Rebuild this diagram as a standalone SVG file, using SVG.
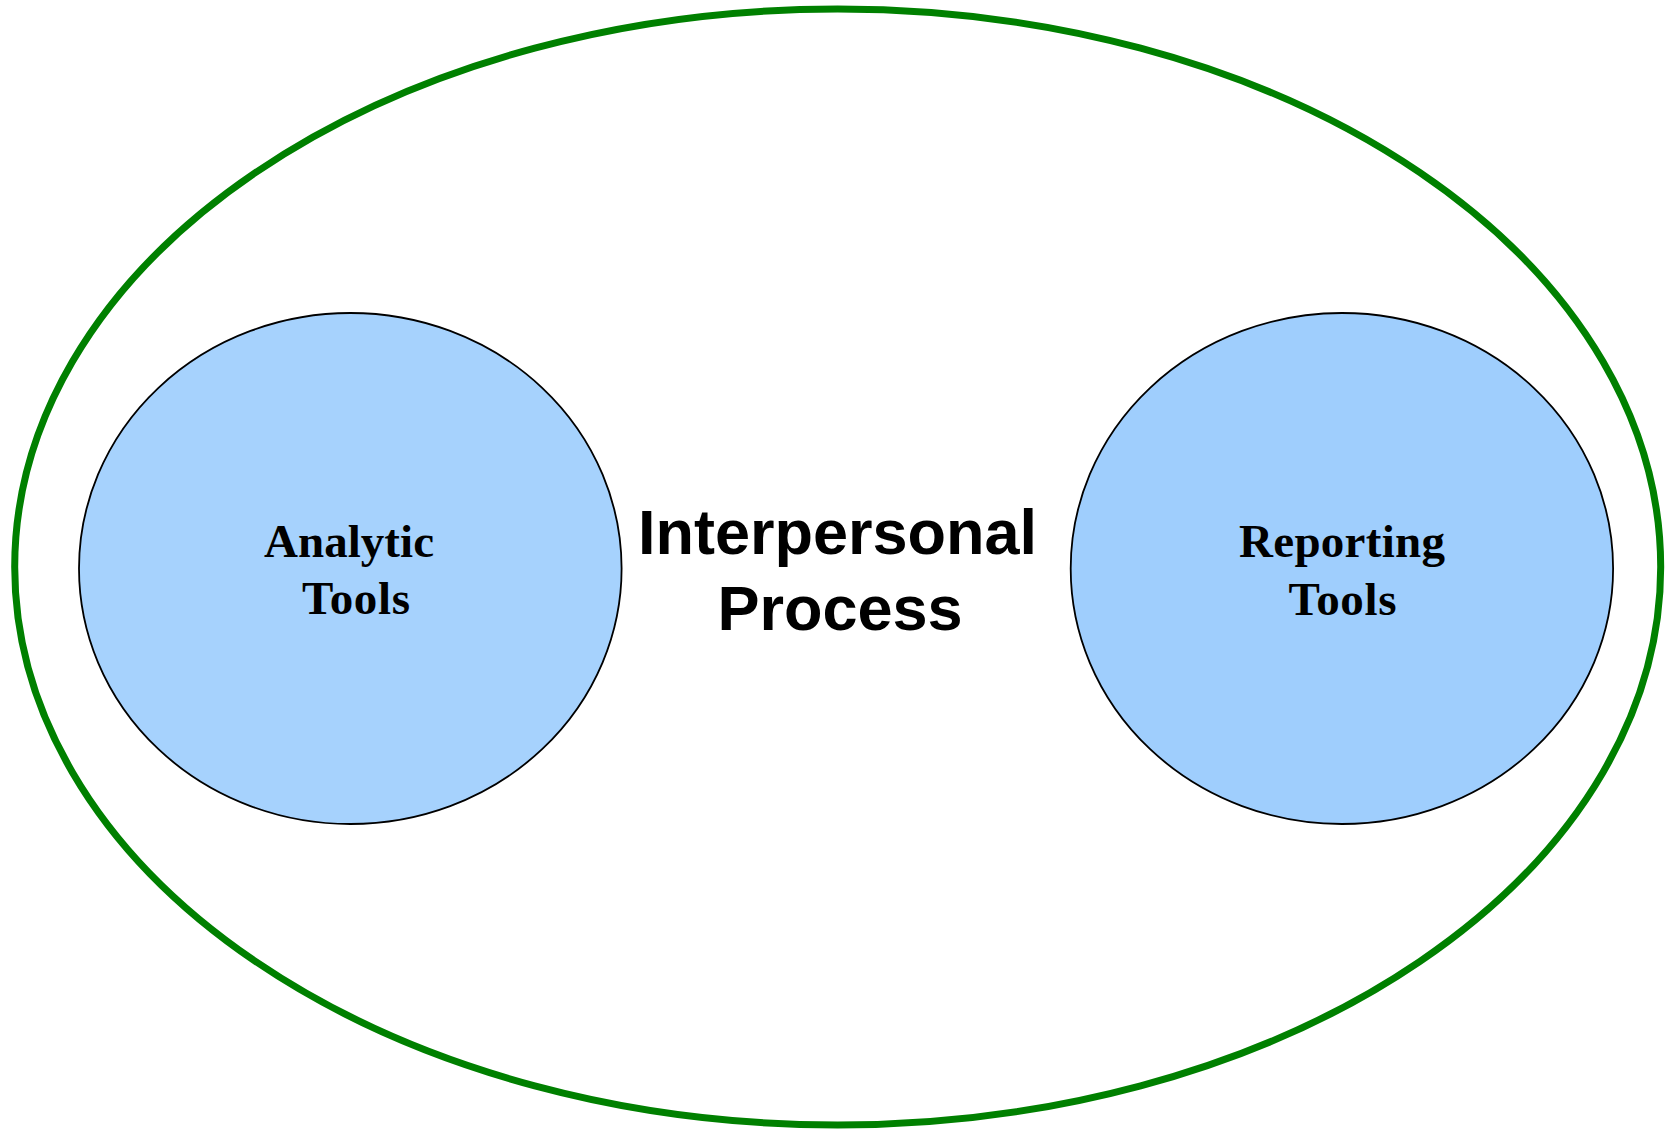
<svg xmlns="http://www.w3.org/2000/svg" width="1671" height="1129" viewBox="0 0 1671 1129">
<style>
.outer{fill:#ffffff;stroke:#008000;stroke-width:7}
.tool{stroke:#000000;stroke-width:1.8}
.serif{font-family:"Liberation Serif","Times New Roman",serif;font-weight:bold;font-size:47px;fill:#000;text-anchor:middle}
.sans{font-family:"Liberation Sans",Arial,sans-serif;font-weight:bold;font-size:63px;fill:#000;text-anchor:middle}
</style>
<rect width="1671" height="1129" fill="#ffffff"/>
<g id="interpersonal-process">
<ellipse class="outer" cx="837.7" cy="567" rx="823" ry="558"/>
<text class="sans" x="837.5" y="554">Interpersonal</text>
<text class="sans" x="840" y="630">Process</text>
</g>
<g id="analytic-tools">
<ellipse class="tool" cx="350.3" cy="568.5" rx="271.3" ry="255.5" fill="#a6d2fd"/>
<text class="serif" x="349" y="557" textLength="170" lengthAdjust="spacing">Analytic</text>
<text class="serif" x="356" y="614" textLength="108" lengthAdjust="spacing">Tools</text>
</g>
<g id="reporting-tools">
<ellipse class="tool" cx="1341.9" cy="568.5" rx="271.2" ry="255.5" fill="#9fcefd"/>
<text class="serif" x="1342" y="557" textLength="206" lengthAdjust="spacing">Reporting</text>
<text class="serif" x="1342.5" y="615" textLength="108" lengthAdjust="spacing">Tools</text>
</g>
<g id="connectors"/>
</svg>
